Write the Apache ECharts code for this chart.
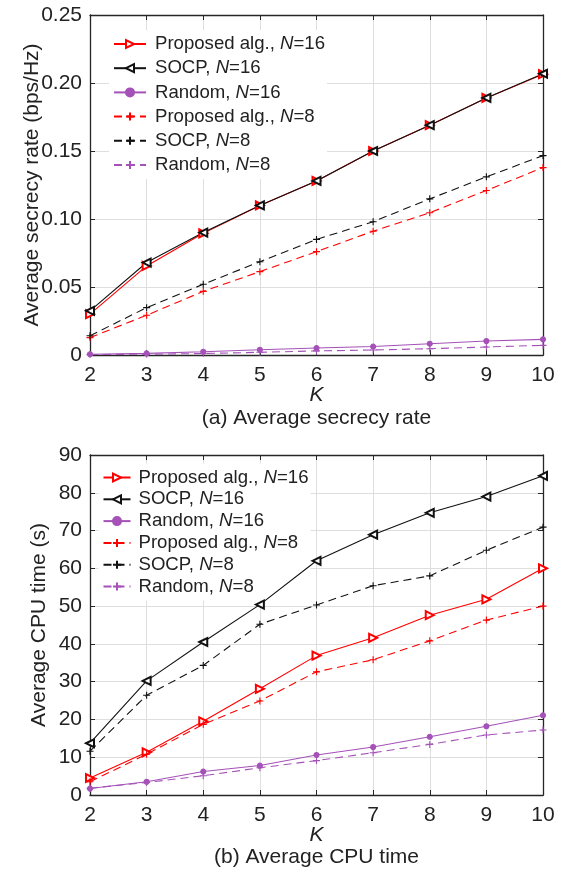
<!DOCTYPE html>
<html>
<head>
<meta charset="utf-8">
<script src="https://cdn.jsdelivr.net/npm/echarts@6/dist/echarts.min.js"></script>
<style>
html,body{margin:0;padding:0;background:#fff;}
#c{width:569px;height:871px;}
</style>
</head>
<body>
<div id="c"></div>
<script>
// ---- data ----
const K = [2, 3, 4, 5, 6, 7, 8, 9, 10];
const seriesNames = ['Proposed alg., N=16', 'SOCP, N=16', 'Random, N=16', 'Proposed alg., N=8', 'SOCP, N=8', 'Random, N=8'];

// (a) average secrecy rate (bps/Hz)
const rateProp16 = [0.030, 0.0655, 0.0895, 0.110, 0.128, 0.150, 0.169, 0.189, 0.2065];
const rateSocp16 = [0.0325, 0.068, 0.090, 0.110, 0.128, 0.150, 0.169, 0.189, 0.2068];
const rateRand16 = [0.0006, 0.0012, 0.0024, 0.0039, 0.0051, 0.0062, 0.0083, 0.0103, 0.0115];
const rateProp8 = [0.0128, 0.0292, 0.0468, 0.0613, 0.076, 0.091, 0.1046, 0.121, 0.1378];
const rateSocp8 = [0.0142, 0.0348, 0.052, 0.0686, 0.085, 0.098, 0.1148, 0.131, 0.1466];
const rateRand8 = [0.0003, 0.0006, 0.0011, 0.002, 0.003, 0.0037, 0.0046, 0.0059, 0.0071];

// (b) average CPU time (s)
const cpuProp16 = [4.5, 11.3, 19.5, 28.1, 36.9, 41.6, 47.6, 51.8, 60.0];
const cpuSocp16 = [13.7, 30.2, 40.5, 50.4, 62.0, 68.9, 74.7, 79.0, 84.5];
const cpuRand16 = [1.7, 3.5, 6.2, 7.8, 10.6, 12.7, 15.4, 18.2, 21.1];
const cpuProp8 = [3.5, 10.8, 18.7, 24.9, 32.6, 35.8, 40.8, 46.3, 50.0];
const cpuSocp8 = [11.6, 26.4, 34.3, 45.2, 50.3, 55.4, 58.0, 64.8, 70.9];
const cpuRand8 = [1.8, 3.3, 5.1, 7.2, 9.1, 11.2, 13.4, 15.9, 17.2];

const rateTicks = ['0', '0.05', '0.10', '0.15', '0.20', '0.25'];
const xLabelA = 'K';
const captionA = '(a) Average secrecy rate';
const captionB = '(b) Average CPU time';
const yNameA = 'Average secrecy rate (bps/Hz)';
const yNameB = 'Average CPU time (s)';

// ---- styling ----
const FONT = '"Liberation Sans", Arial, Helvetica, sans-serif';
const RED = '#ff0000', BLACK = '#111111', PURPLE = '#a552b8';
const PLUS = 'path://M0,5L10,5M5,0L5,10';
const styles = [
  {color: RED, symbol: 'emptyTriangle', rot: -90, size: 8, dash: 'solid'},
  {color: BLACK, symbol: 'emptyTriangle', rot: 90, size: 8, dash: 'solid'},
  {color: PURPLE, symbol: 'circle', rot: 0, size: 5, dash: 'solid'},
  {color: RED, symbol: PLUS, rot: 0, size: 7, dash: [8, 5]},
  {color: BLACK, symbol: PLUS, rot: 0, size: 7, dash: [8, 5]},
  {color: PURPLE, symbol: PLUS, rot: 0, size: 7, dash: [8, 5]}
];

const grids = [
  {left: 90, top: 15, width: 453, height: 340},
  {left: 90, top: 455, width: 453, height: 340}
];

function xAxes(gi) {
  const base = {
    type: 'value', gridIndex: gi, min: 2, max: 10, interval: 1,
    axisLine: {show: true, onZero: false, lineStyle: {color: '#262626', width: 1.3}},
    axisTick: {show: true, inside: true, length: 5, lineStyle: {color: '#262626'}},
    splitLine: {show: false}
  };
  return [
    Object.assign({}, base, {
      position: 'bottom',
      axisLabel: {color: '#222', fontSize: 21, fontFamily: FONT, margin: 10},
      splitLine: {show: true, lineStyle: {color: '#dedede', width: 1}},
      name: xLabelA, nameLocation: 'middle', nameGap: 30, nameMoveOverlap: false,
      nameTextStyle: {fontSize: 21, fontStyle: 'italic', fontFamily: FONT, color: '#222'}
    }),
    Object.assign({}, base, {position: 'top', axisLabel: {show: false}})
  ];
}
function yAxes(gi, max, interval, fmt, name, gap) {
  const base = {
    type: 'value', gridIndex: gi, min: 0, max: max, interval: interval,
    axisLine: {show: true, onZero: false, lineStyle: {color: '#262626', width: 1.3}},
    axisTick: {show: true, inside: true, length: 5, lineStyle: {color: '#262626'}},
    splitLine: {show: false}
  };
  return [
    Object.assign({}, base, {
      position: 'left',
      axisLabel: {color: '#222', fontSize: 21, fontFamily: FONT, margin: 8, formatter: fmt},
      splitLine: {show: true, lineStyle: {color: '#dedede', width: 1}},
      name: name, nameLocation: 'middle', nameGap: gap, nameMoveOverlap: false,
      nameTextStyle: {fontSize: 21, fontFamily: FONT, color: '#222'}
    }),
    Object.assign({}, base, {position: 'right', axisLabel: {show: false}})
  ];
}

function mkSeries(gi, arrays) {
  return arrays.map((arr, i) => {
    const s = styles[i];
    return {
      name: seriesNames[i] + (gi === 1 ? ' ' : ''),
      type: 'line',
      xAxisIndex: gi * 2, yAxisIndex: gi * 2,
      z: 3,
      data: K.map((k, j) => [k, arr[j]]),
      symbol: s.symbol, symbolRotate: s.rot, symbolSize: s.size,
      showAllSymbol: true,
      lineStyle: {color: s.color, width: 1.1, type: s.dash},
      itemStyle: {color: s.color, borderColor: s.color, borderWidth: 1.1},
      emphasis: {disabled: true},
      animation: false
    };
  });
}

function legendFmt(name) {
  const m = name.trim().match(/^(.*), N=(\d+)$/);
  return '{a|' + m[1] + ', }{i|N}{a|=' + m[2] + '}';
}
function legend(gi, top, left, gap, iw, tpad) {
  const a = {fontSize: 18.6, fontFamily: FONT, color: '#222', lineHeight: 20, padding: [0, 0, 0, 0]};
  return {
    data: seriesNames.map(n => n + (gi === 1 ? ' ' : '')),
    orient: 'vertical', top: top, left: left, z: 1,
    itemWidth: iw, itemHeight: 10, itemGap: gap,
    backgroundColor: '#ffffff', padding: [4, 2, 4, 4],
    formatter: legendFmt,
    textStyle: {
      fontSize: 18.6, fontFamily: FONT, color: '#222', lineHeight: 20, padding: [0, 0, 0, tpad],
      rich: {
        a: a,
        i: Object.assign({}, a, {fontStyle: 'italic'})
      }
    }
  };
}

const chart = echarts.init(document.getElementById('c'), null, {renderer: 'canvas'});
chart.setOption({
  backgroundColor: '#ffffff',
  animation: false,
  grid: grids,
  xAxis: xAxes(0).concat(xAxes(1)),
  yAxis: yAxes(0, 0.25, 0.05, (v) => rateTicks[Math.round(v / 0.05)], yNameA, 47)
    .concat(yAxes(1, 90, 10, (v) => String(v), yNameB, 40)),
  legend: [legend(0, 30, 109, 4.2, 32, 4), legend(1, 463.5, 98.5, 1.8, 27, 3)],
  series: mkSeries(0, [rateProp16, rateSocp16, rateRand16, rateProp8, rateSocp8, rateRand8])
    .concat(mkSeries(1, [cpuProp16, cpuSocp16, cpuRand16, cpuProp8, cpuSocp8, cpuRand8])),
  graphic: [
    {type: 'text', x: 316.5, y: 418, style: {text: captionA, fontSize: 21, fontFamily: FONT, fill: '#222', align: 'center', verticalAlign: 'middle'}},
    {type: 'text', x: 316.5, y: 857, style: {text: captionB, fontSize: 21, fontFamily: FONT, fill: '#222', align: 'center', verticalAlign: 'middle'}}
  ]
});
</script>
</body>
</html>
